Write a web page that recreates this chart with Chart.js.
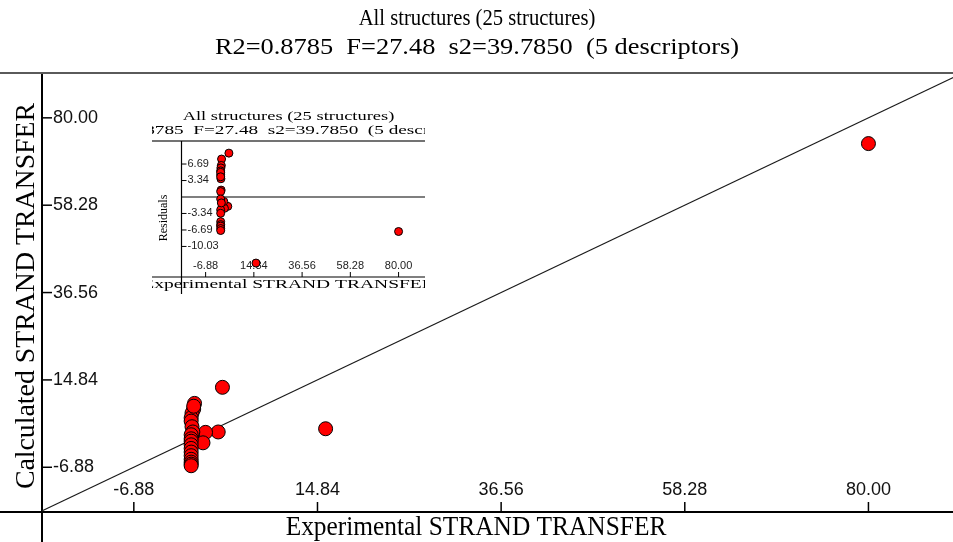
<!DOCTYPE html>
<html>
<head>
<meta charset="utf-8">
<script src="https://cdn.jsdelivr.net/npm/chart.js@4.4.1/dist/chart.umd.min.js"></script>
<style>
  html, body { margin: 0; padding: 0; background: #fff; }
  #wrap { position: relative; width: 953px; height: 542px; overflow: hidden; background: #fff; }
  #main { position: absolute; left: 0; top: 0; }
  #inset { position: absolute; left: 152px; top: 105px; }
</style>
</head>
<body>
<div id="wrap">
  <canvas id="main" width="953" height="542"></canvas>
  <canvas id="inset" width="273" height="189"></canvas>
</div>
<script>
// Observed (experimental) and model-calculated strand transfer values, 25 structures
const experimental = [80.0, 15.8, 3.6, 3.1, 1.6, 1.3, 0.3, 0.2, 0.0, -0.1, -0.1, 0.0, 0.1,
                      -0.1, -0.1, -0.1, -0.1, -0.1, -0.1, -0.1, -0.1, -0.1, -0.1, -0.1, 0.2];
const calculated   = [73.6, 2.7, 13.0, 1.9, 1.8, -0.8, 9.0, 7.6, 6.6, 5.4, 4.6, 3.2, 1.9,
                      1.2, 0.2, -0.4, -1.3, -2.2, -3.1, -4.0, -4.9, -5.6, -6.1, -6.5, 8.3];
// Residuals shown in the small residual plot
const residuals    = [-7.0, -13.4, 8.9, -1.9, -2.3, -0.9, 7.7, 6.4, 5.9, 5.3, 4.5, 3.7, 1.4,
                      1.1, -0.4, -2.6, -3.3, -5.0, -5.6, -5.9, -6.4, -6.8, 5.0, 4.1, -1.2];

// Identity line (calculated = experimental)
const identityLine = [-18.0, 91.0];

// Axis ticks
const mainTickValues = [-6.88, 14.84, 36.56, 58.28, 80.00];
const mainTickLabels = ['-6.88', '14.84', '36.56', '58.28', '80.00'];
const insetXTickValues = [-6.88, 14.84, 36.56, 58.28, 80.00];
const insetXTickLabels = ['-6.88', '14.84', '36.56', '58.28', '80.00'];
const insetYTickValues = [6.69, 3.34, -3.34, -6.69, -10.03];
const insetYTickLabels = ['6.69', '3.34', '-3.34', '-6.69', '-10.03'];

const titleLines = ['All structures (25 structures)',
                    'R2=0.8785  F=27.48  s2=39.7850  (5 descriptors)'];
const xTitle = 'Experimental STRAND TRANSFER';
const yTitle = 'Calculated STRAND TRANSFER';
const residualTitle = 'Residuals';

const SERIF = '"Liberation Serif", "Times New Roman", serif';
const SANS = '"Liberation Sans", Arial, sans-serif';

function seg(ctx, x1, y1, x2, y2) {
  ctx.beginPath(); ctx.moveTo(x1, y1); ctx.lineTo(x2, y2); ctx.stroke();
}
// Text with optional rotation and horizontal stretch
function txt(ctx, s, x, y, font, o) {
  o = o || {};
  ctx.save();
  ctx.translate(x, y);
  if (o.rot) ctx.rotate(o.rot);
  ctx.scale(o.sx || 1, 1);
  ctx.font = font;
  ctx.fillStyle = o.color || '#000';
  ctx.textAlign = o.align || 'center';
  ctx.textBaseline = 'middle';
  ctx.fillText(s, 0, 0);
  ctx.restore();
}

const pairs = (xs, ys) => xs.map((v, i) => ({ x: v, y: ys[i] }));

// Frame of the main plot: rules, axes with inward ticks, labels, titles
const mainFrame = {
  id: 'mainFrame',
  beforeDatasetsDraw(chart) {
    const { ctx, chartArea: a, scales: { x, y } } = chart;
    const W = chart.width, H = chart.height;
    ctx.save();
    ctx.lineCap = 'butt';
    ctx.strokeStyle = '#5a5a5a'; ctx.lineWidth = 2;
    seg(ctx, 0, a.top - 1, W, a.top - 1);
    ctx.strokeStyle = '#000'; ctx.lineWidth = 2;
    seg(ctx, 0, a.bottom, W, a.bottom);
    seg(ctx, a.left, a.top, a.left, H);
    ctx.lineWidth = 1.5;
    mainTickValues.forEach((v, i) => {
      const px = x.getPixelForValue(v);
      seg(ctx, px, a.bottom, px, a.bottom - 10);
      txt(ctx, mainTickLabels[i], px, a.bottom - 22, '18px ' + SANS, { color: '#111' });
    });
    mainTickValues.forEach((v, i) => {
      const py = y.getPixelForValue(v);
      seg(ctx, a.left, py, a.left + 10, py);
      txt(ctx, mainTickLabels[i], a.left + 11, py, '18px ' + SANS, { align: 'left', color: '#111' });
    });
    txt(ctx, titleLines[0], 477, 19, '24px ' + SERIF, { sx: 0.86 });
    txt(ctx, titleLines[1], 477, 48, '24px ' + SERIF, { sx: 1.1 });
    txt(ctx, xTitle, 476, 528, '27px ' + SERIF, { sx: 0.94 });
    txt(ctx, yTitle, 27, 296, '27px ' + SERIF, { rot: -Math.PI / 2, sx: 1.03 });
    ctx.restore();
  }
};

new Chart(document.getElementById('main'), {
  type: 'scatter',
  data: {
    datasets: [
      {
        type: 'scatter',
        data: pairs(experimental, calculated),
        backgroundColor: '#ff0000',
        borderColor: '#000',
        borderWidth: 1,
        pointRadius: 7,
        order: 0
      },
      {
        type: 'line',
        data: pairs(identityLine, identityLine),
        borderColor: '#1a1a1a',
        borderWidth: 1.2,
        pointRadius: 0,
        fill: false,
        order: 1
      }
    ]
  },
  options: {
    responsive: false,
    animation: false,
    devicePixelRatio: 1,
    layout: { autoPadding: false, padding: { left: 42, top: 74, right: 0, bottom: 30 } },
    scales: {
      x: { type: 'linear', min: -17.74, max: 90.0, display: false },
      y: { type: 'linear', min: -18.0, max: 90.9, display: false }
    },
    plugins: { legend: { display: false }, tooltip: { enabled: false }, title: { display: false } }
  },
  plugins: [mainFrame]
});

// Frame of the residual plot
const insetFrame = {
  id: 'insetFrame',
  beforeDraw(chart) {
    const { ctx } = chart;
    ctx.save();
    ctx.fillStyle = '#fff';
    ctx.fillRect(0, 0, chart.width, chart.height);
    ctx.restore();
  },
  beforeDatasetsDraw(chart) {
    const { ctx, chartArea: a, scales: { x, y } } = chart;
    const W = chart.width, H = chart.height;
    ctx.save();
    txt(ctx, titleLines[0], W / 2, 12, '13px ' + SERIF, { sx: 1.42 });
    txt(ctx, titleLines[1], W / 2, 26, '13px ' + SERIF, { sx: 1.48 });
    ctx.strokeStyle = '#444'; ctx.lineWidth = 1.5;
    seg(ctx, 0, a.top, W, a.top);
    ctx.strokeStyle = '#000'; ctx.lineWidth = 1.2;
    seg(ctx, a.left, a.top, a.left, H);
    seg(ctx, 0, a.bottom, W, a.bottom);
    seg(ctx, a.left, y.getPixelForValue(0), W, y.getPixelForValue(0));
    ctx.lineWidth = 1;
    insetXTickValues.forEach((v, i) => {
      const px = x.getPixelForValue(v);
      seg(ctx, px, a.bottom, px, a.bottom - 5);
      txt(ctx, insetXTickLabels[i], px, a.bottom - 11, '10px ' + SANS, { sx: 1.1, color: '#222' });
    });
    insetYTickValues.forEach((v, i) => {
      const py = y.getPixelForValue(v);
      seg(ctx, a.left, py, a.left + 5, py);
      txt(ctx, insetYTickLabels[i], a.left + 6, py, '10px ' + SANS, { sx: 1.1, align: 'left', color: '#222' });
    });
    txt(ctx, xTitle, W / 2, a.bottom + 8, '13px ' + SERIF, { sx: 1.5 });
    txt(ctx, residualTitle, 12, 113, '12px ' + SERIF, { rot: -Math.PI / 2 });
    ctx.restore();
  }
};

new Chart(document.getElementById('inset'), {
  type: 'scatter',
  data: {
    datasets: [{
      data: pairs(experimental, residuals),
      backgroundColor: '#ff0000',
      borderColor: '#000',
      borderWidth: 1,
      pointRadius: 4
    }]
  },
  options: {
    responsive: false,
    animation: false,
    devicePixelRatio: 1,
    layout: { autoPadding: false, padding: { left: 29.5, top: 36, right: 0, bottom: 17 } },
    scales: {
      x: { type: 'linear', min: -17.74, max: 91.9, display: false },
      y: { type: 'linear', min: -16.23, max: 11.36, display: false }
    },
    plugins: { legend: { display: false }, tooltip: { enabled: false }, title: { display: false } }
  },
  plugins: [insetFrame]
});
</script>
</body>
</html>
